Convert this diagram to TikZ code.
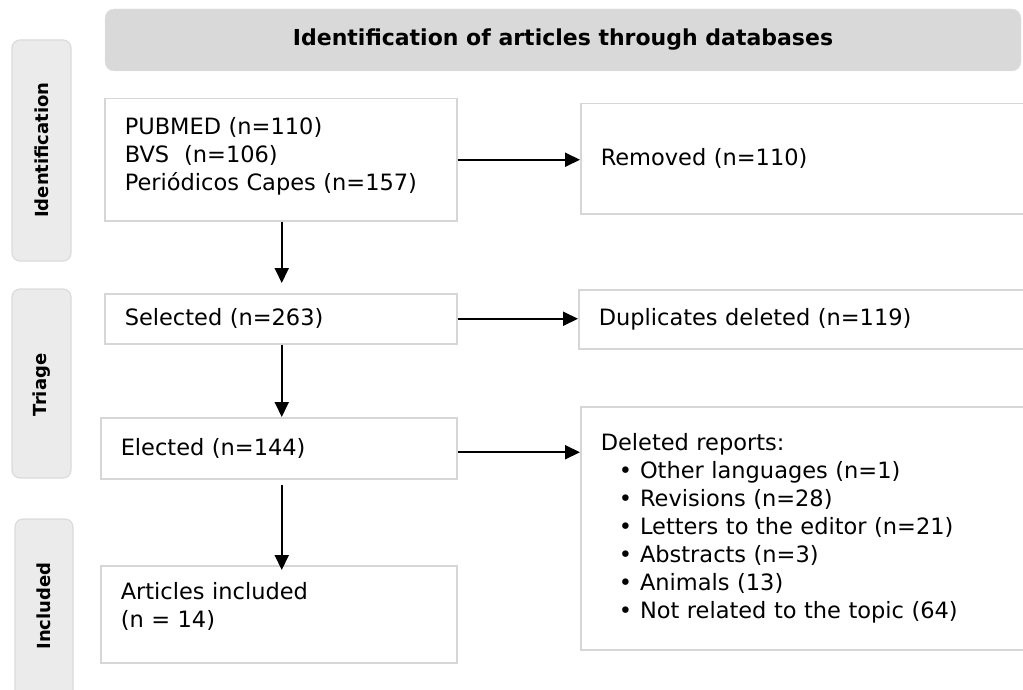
\documentclass[tikz,border=0pt]{standalone}
\usepackage{fontspec}
\setmainfont{DejaVu Sans}
\usetikzlibrary{positioning,arrows.meta}
\newcommand{\bul}{\hspace*{18pt}\textbullet\hspace{8pt}}

\begin{document}
\begin{tikzpicture}[x=1pt, y=-1pt, >={Triangle[length=15pt,width=14pt]}, every node/.style={font=\fontsize{22.5}{28}\selectfont}]
      \tikzstyle{stepbox}=[draw=black!16, line width=1.5pt, fill=white, anchor=north west, inner xsep=20pt, inner ysep=0pt, align=left]
      \tikzstyle{sidebox}=[draw=black!14, line width=1.2pt, fill=black!8, rounded corners=8pt]
      \tikzstyle{sidetext}=[font=\fontsize{18}{20}\selectfont\bfseries, rotate=90]
      \tikzstyle{flow}=[->, line width=2pt, black]
      \useasboundingbox (0,0) rectangle (1023,690);
      \clip (0,0) rectangle (1023,690);

      % header and side bands
      \draw[fill=black!15, draw=black!10, rounded corners=9pt] (105,9) rectangle (1021,71);
      \node[font=\fontsize{22}{24}\selectfont\bfseries] (head) at (563,40) {Identification of articles through databases};
      \draw[sidebox] (12,40) rectangle (71,261);
      \node[sidetext] (lid) at (42,150) {Identification};
      \draw[sidebox] (12,289) rectangle (71,478);
      \node[sidetext] (ltr) at (42,385) {Triage};
      \draw[sidebox] (15,519) rectangle (73,705);
      \node[sidetext] (lin) at (44,606) {Included};

      % left column
      \node[stepbox, text width=312pt, minimum height=122pt] (src) at (104,98) {PUBMED (n=110)\\BVS\ \ (n=106)\\Periódicos Capes (n=157)\\[-16pt]\mbox{}};
      \node[stepbox, text width=312pt, minimum height=50pt] (sel) at (104,293) {Selected (n=263)};
      \node[stepbox, text width=316pt, minimum height=61pt] (ele) at (100,417) {Elected (n=144)};
      \node[stepbox, text width=316pt, minimum height=97pt] (inc) at (100,565) {Articles included\\(n = 14)\\[-10pt]\mbox{}};

      % right column
      \node[stepbox, text width=420pt, minimum height=110pt] (rem) at (580,103) {Removed (n=110)};
      \node[stepbox, text width=420pt, minimum height=59pt] (dup) at (578,289) {Duplicates deleted (n=119)};
      \node[stepbox, text width=420pt, minimum height=243pt] (del) at (580,406) {Deleted reports:\\
        \bul Other languages (n=1)\\
        \bul Revisions (n=28)\\
        \bul Letters to the editor (n=21)\\
        \bul Abstracts (n=3)\\
        \bul Animals (13)\\
        \bul Not related to the topic (64)};

      \draw[flow] (src.east) -- (src.east -| rem.west);
      \draw[flow] (sel.east) -- (sel.east -| dup.west);
      \draw[flow] ([yshift=-4pt]ele.east) -- ([yshift=-4pt]ele.east -| del.west);
      \draw[flow] ([xshift=1pt]src.south) -- ([xshift=1pt,yshift=10pt]src.south |- sel.north);
      \draw[flow] ([xshift=1pt]sel.south) -- ([xshift=1pt]sel.south |- ele.north);
      \draw[flow] ([xshift=1pt,yshift=-5pt]sel.south |- ele.south) -- ([xshift=1pt,yshift=-5pt]sel.south |- inc.north);
    \end{tikzpicture}
\end{document}
